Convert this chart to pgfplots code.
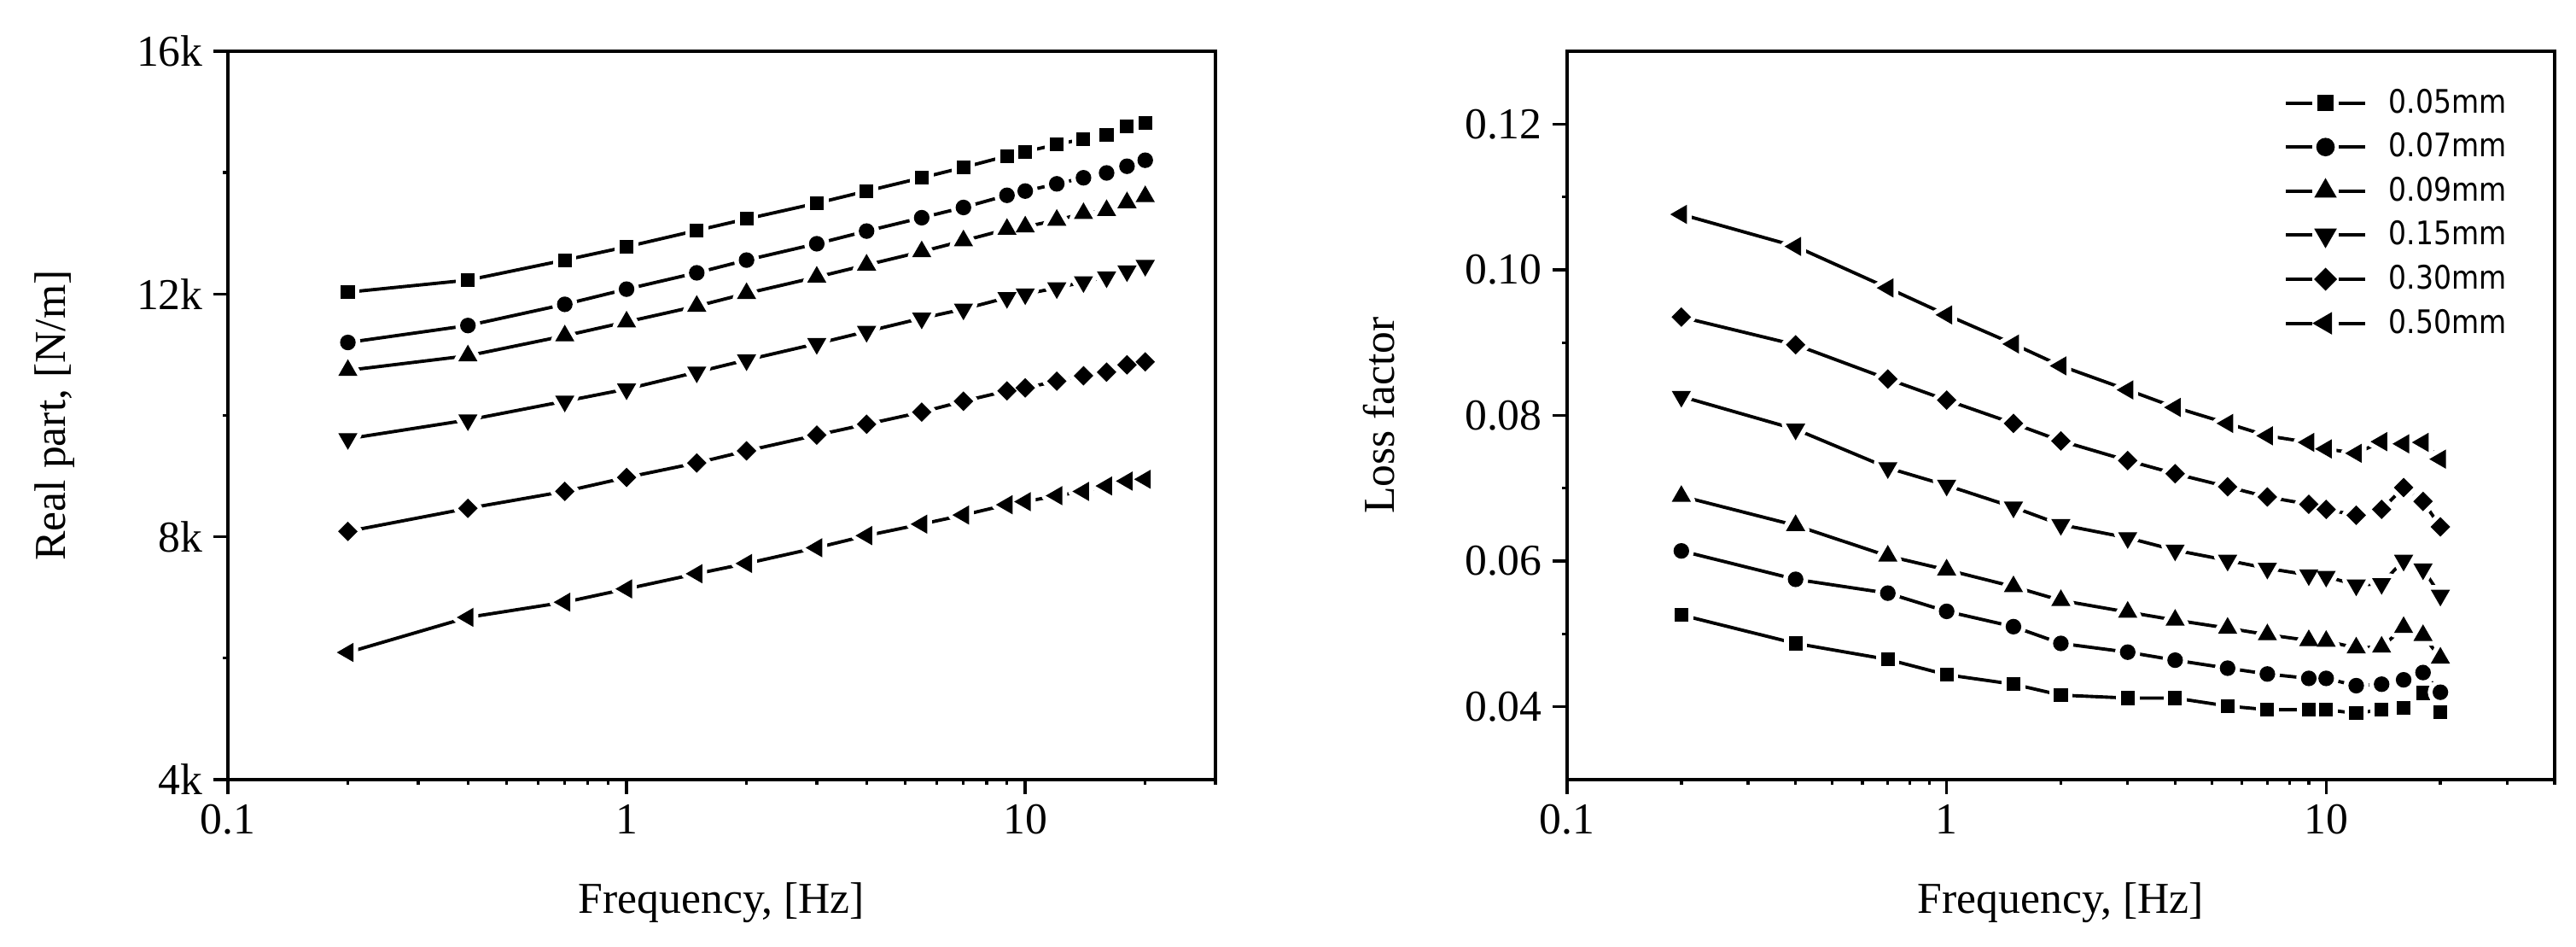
\documentclass[border=0pt]{standalone}
\usepackage{fontspec}
\setmainfont{Liberation Serif}
\newfontfamily\legfont{DejaVu Sans}[FakeStretch=0.87]
\usepackage{pgfplots}
\usepackage{pgfplotstable}
\pgfplotsset{compat=1.18}

% frequency and stiffness (real part) for six thicknesses
\pgfplotstableread{
f    a     b     c     d     e     g
0.2  12030 11202 10743 9616  8090  6095
0.4  12229 11481 10983 9925  8469  6673
0.7  12559 11830 11312 10234 8748  6923
1    12778 12080 11541 10434 8978  7142
1.5  13047 12349 11800 10713 9217  7392
2    13237 12559 12010 10913 9416  7561
3    13496 12828 12279 11182 9676  7820
4    13696 13037 12479 11382 9855  8020
5.5  13915 13257 12698 11601 10055 8209
7    14085 13426 12878 11751 10234 8359
9    14274 13626 13067 11940 10404 8529
10   14344 13696 13107 12000 10454 8579
12   14464 13815 13217 12100 10564 8678
14   14554 13915 13327 12200 10653 8748
16   14623 13995 13377 12279 10713 8838
18   14763 14105 13506 12379 10833 8918
20   14823 14204 13606 12469 10883 8948
}\realtab

% loss factor
\pgfplotstableread{
f    a      b      c      d      e      g
0.2  0.0526 0.0614 0.0689 0.0826 0.0935 0.1076
0.4  0.0487 0.0575 0.0649 0.0781 0.0897 0.1032
0.7  0.0465 0.0556 0.0607 0.0728 0.0850 0.0975
1    0.0444 0.0531 0.0588 0.0704 0.0821 0.0938
1.5  0.0431 0.0510 0.0565 0.0674 0.0789 0.0898
2    0.0416 0.0487 0.0546 0.0650 0.0765 0.0868
3    0.0412 0.0475 0.0530 0.0632 0.0738 0.0835
4    0.0412 0.0464 0.0519 0.0615 0.0720 0.0811
5.5  0.0401 0.0453 0.0508 0.0601 0.0702 0.0789
7    0.0396 0.0445 0.0499 0.0590 0.0688 0.0772
9    0.0396 0.0439 0.0491 0.0581 0.0678 0.0763
10   0.0396 0.0439 0.0490 0.0579 0.0671 0.0754
12   0.0391 0.0429 0.0481 0.0567 0.0663 0.0748
14   0.0396 0.0431 0.0482 0.0569 0.0671 0.0764
16   0.0398 0.0437 0.0509 0.0601 0.0701 0.0761
18   0.0419 0.0447 0.0498 0.0589 0.0682 0.0763
20   0.0393 0.0420 0.0467 0.0553 0.0647 0.0740
}\losstab

\newcommand{\tickfont}{\fontsize{14.7}{17}\selectfont}

\pgfplotsset{
  legimg/.style={
    legend image code/.code={
      \draw[line width=1.1pt, black] (0cm,0cm) -- (0.31cm,0cm);
      \draw[line width=1.1pt, black] (0.62cm,0cm) -- (0.93cm,0cm);
      \draw[##1, /tikz/every mark/.append style={scale=1.2}] plot coordinates {(0.465cm,0cm)};
    },
  },
}

% line, white halo, black mark
\newcommand{\series}[5]{%
  \addplot[line width=1.1pt, black, forget plot] table[x=f, y=#2]{#1};
  \addplot[only marks, mark=#3, mark size=#4, forget plot,
    mark options={rotate=#5, draw=white, fill=white, line width=3.6pt, line join=round}]
    table[x=f, y=#2]{#1};
  \addplot[only marks, mark=#3, mark size=#4, legimg,
    mark options={rotate=#5, draw=black, fill=black, line width=0.4pt}]
    table[x=f, y=#2]{#1};
}

\begin{document}
\begin{tikzpicture}
\path[use as bounding box] (-2.67,-1.96) rectangle (27.51,9.13);

\begin{axis}[
  width=11.57cm, height=8.53cm, scale only axis,
  at={(0cm,0cm)}, anchor=south west,
  xmode=log, xmin=0.1, xmax=30,
  xtick={0.1,1,10}, xticklabels={0.1,1,10},
  minor xtick={0.2,0.3,0.4,0.5,0.6,0.7,0.8,0.9,2,3,4,5,6,7,8,9,20,30},
  tick align=outside, xtick pos=bottom, ytick pos=left,
  major tick length=0.17cm, minor tick length=0.06cm,
  every tick/.append style={black, line width=0.95pt},
  axis line style={line width=0.95pt},
  tick label style={font=\tickfont},
  label style={font=\tickfont},
  minor y tick num=1,
  scaled y ticks=false,
  xlabel={Frequency, [Hz]},
  xlabel style={at={(axis description cs:0.5,-0.184)}, anchor=base},
  ymin=4000, ymax=16000,
  ytick={4000,8000,12000,16000}, yticklabels={4k,8k,12k,16k},
  ylabel={Real part, [N/m]},
  ylabel style={at={(axis description cs:-0.196,0.5)}, anchor=north, inner sep=0pt},
  clip=false,
]
\series{\realtab}{a}{square*}{2.1pt}{0}
\series{\realtab}{b}{*}{2.4pt}{0}
\series{\realtab}{c}{triangle*}{3.3pt}{0}
\series{\realtab}{d}{triangle*}{3.3pt}{180}
\series{\realtab}{e}{square*}{2.1pt}{45}
\series{\realtab}{g}{triangle*}{3.3pt}{90}
\end{axis}

\begin{axis}[
  width=11.57cm, height=8.53cm, scale only axis,
  at={(15.69cm,0cm)}, anchor=south west,
  xmode=log, xmin=0.1, xmax=40,
  xtick={0.1,1,10}, xticklabels={0.1,1,10},
  minor xtick={0.2,0.3,0.4,0.5,0.6,0.7,0.8,0.9,2,3,4,5,6,7,8,9,20,30,40},
  tick align=outside, xtick pos=bottom, ytick pos=left,
  major tick length=0.17cm, minor tick length=0.06cm,
  every tick/.append style={black, line width=0.95pt},
  axis line style={line width=0.95pt},
  tick label style={font=\tickfont},
  label style={font=\tickfont},
  minor y tick num=1,
  scaled y ticks=false,
  xlabel={Frequency, [Hz]},
  xlabel style={at={(axis description cs:0.5,-0.184)}, anchor=base},
  ymin=0.03, ymax=0.13,
  ytick={0.04,0.06,0.08,0.10,0.12},
  yticklabels={0.04,0.06,0.08,0.10,0.12},
  ylabel={Loss factor},
  ylabel style={at={(axis description cs:-0.207,0.5)}, anchor=north, inner sep=0pt},
  clip=false,
  legend style={draw=none, fill=none, at={(axis description cs:0.7255,0.96)},
    anchor=north west, inner sep=0pt,
    font=\legfont\fontsize{10.8}{13}\selectfont,
    nodes={inner sep=0pt, minimum height=0.516cm},
    /tikz/every odd column/.append style={column sep=0.26cm},
    cells={anchor=west}},
]
\series{\losstab}{a}{square*}{2.1pt}{0}
\series{\losstab}{b}{*}{2.4pt}{0}
\series{\losstab}{c}{triangle*}{3.3pt}{0}
\series{\losstab}{d}{triangle*}{3.3pt}{180}
\series{\losstab}{e}{square*}{2.1pt}{45}
\series{\losstab}{g}{triangle*}{3.3pt}{90}
\legend{0.05mm,0.07mm,0.09mm,0.15mm,0.30mm,0.50mm}
\end{axis}
\end{tikzpicture}
\end{document}
